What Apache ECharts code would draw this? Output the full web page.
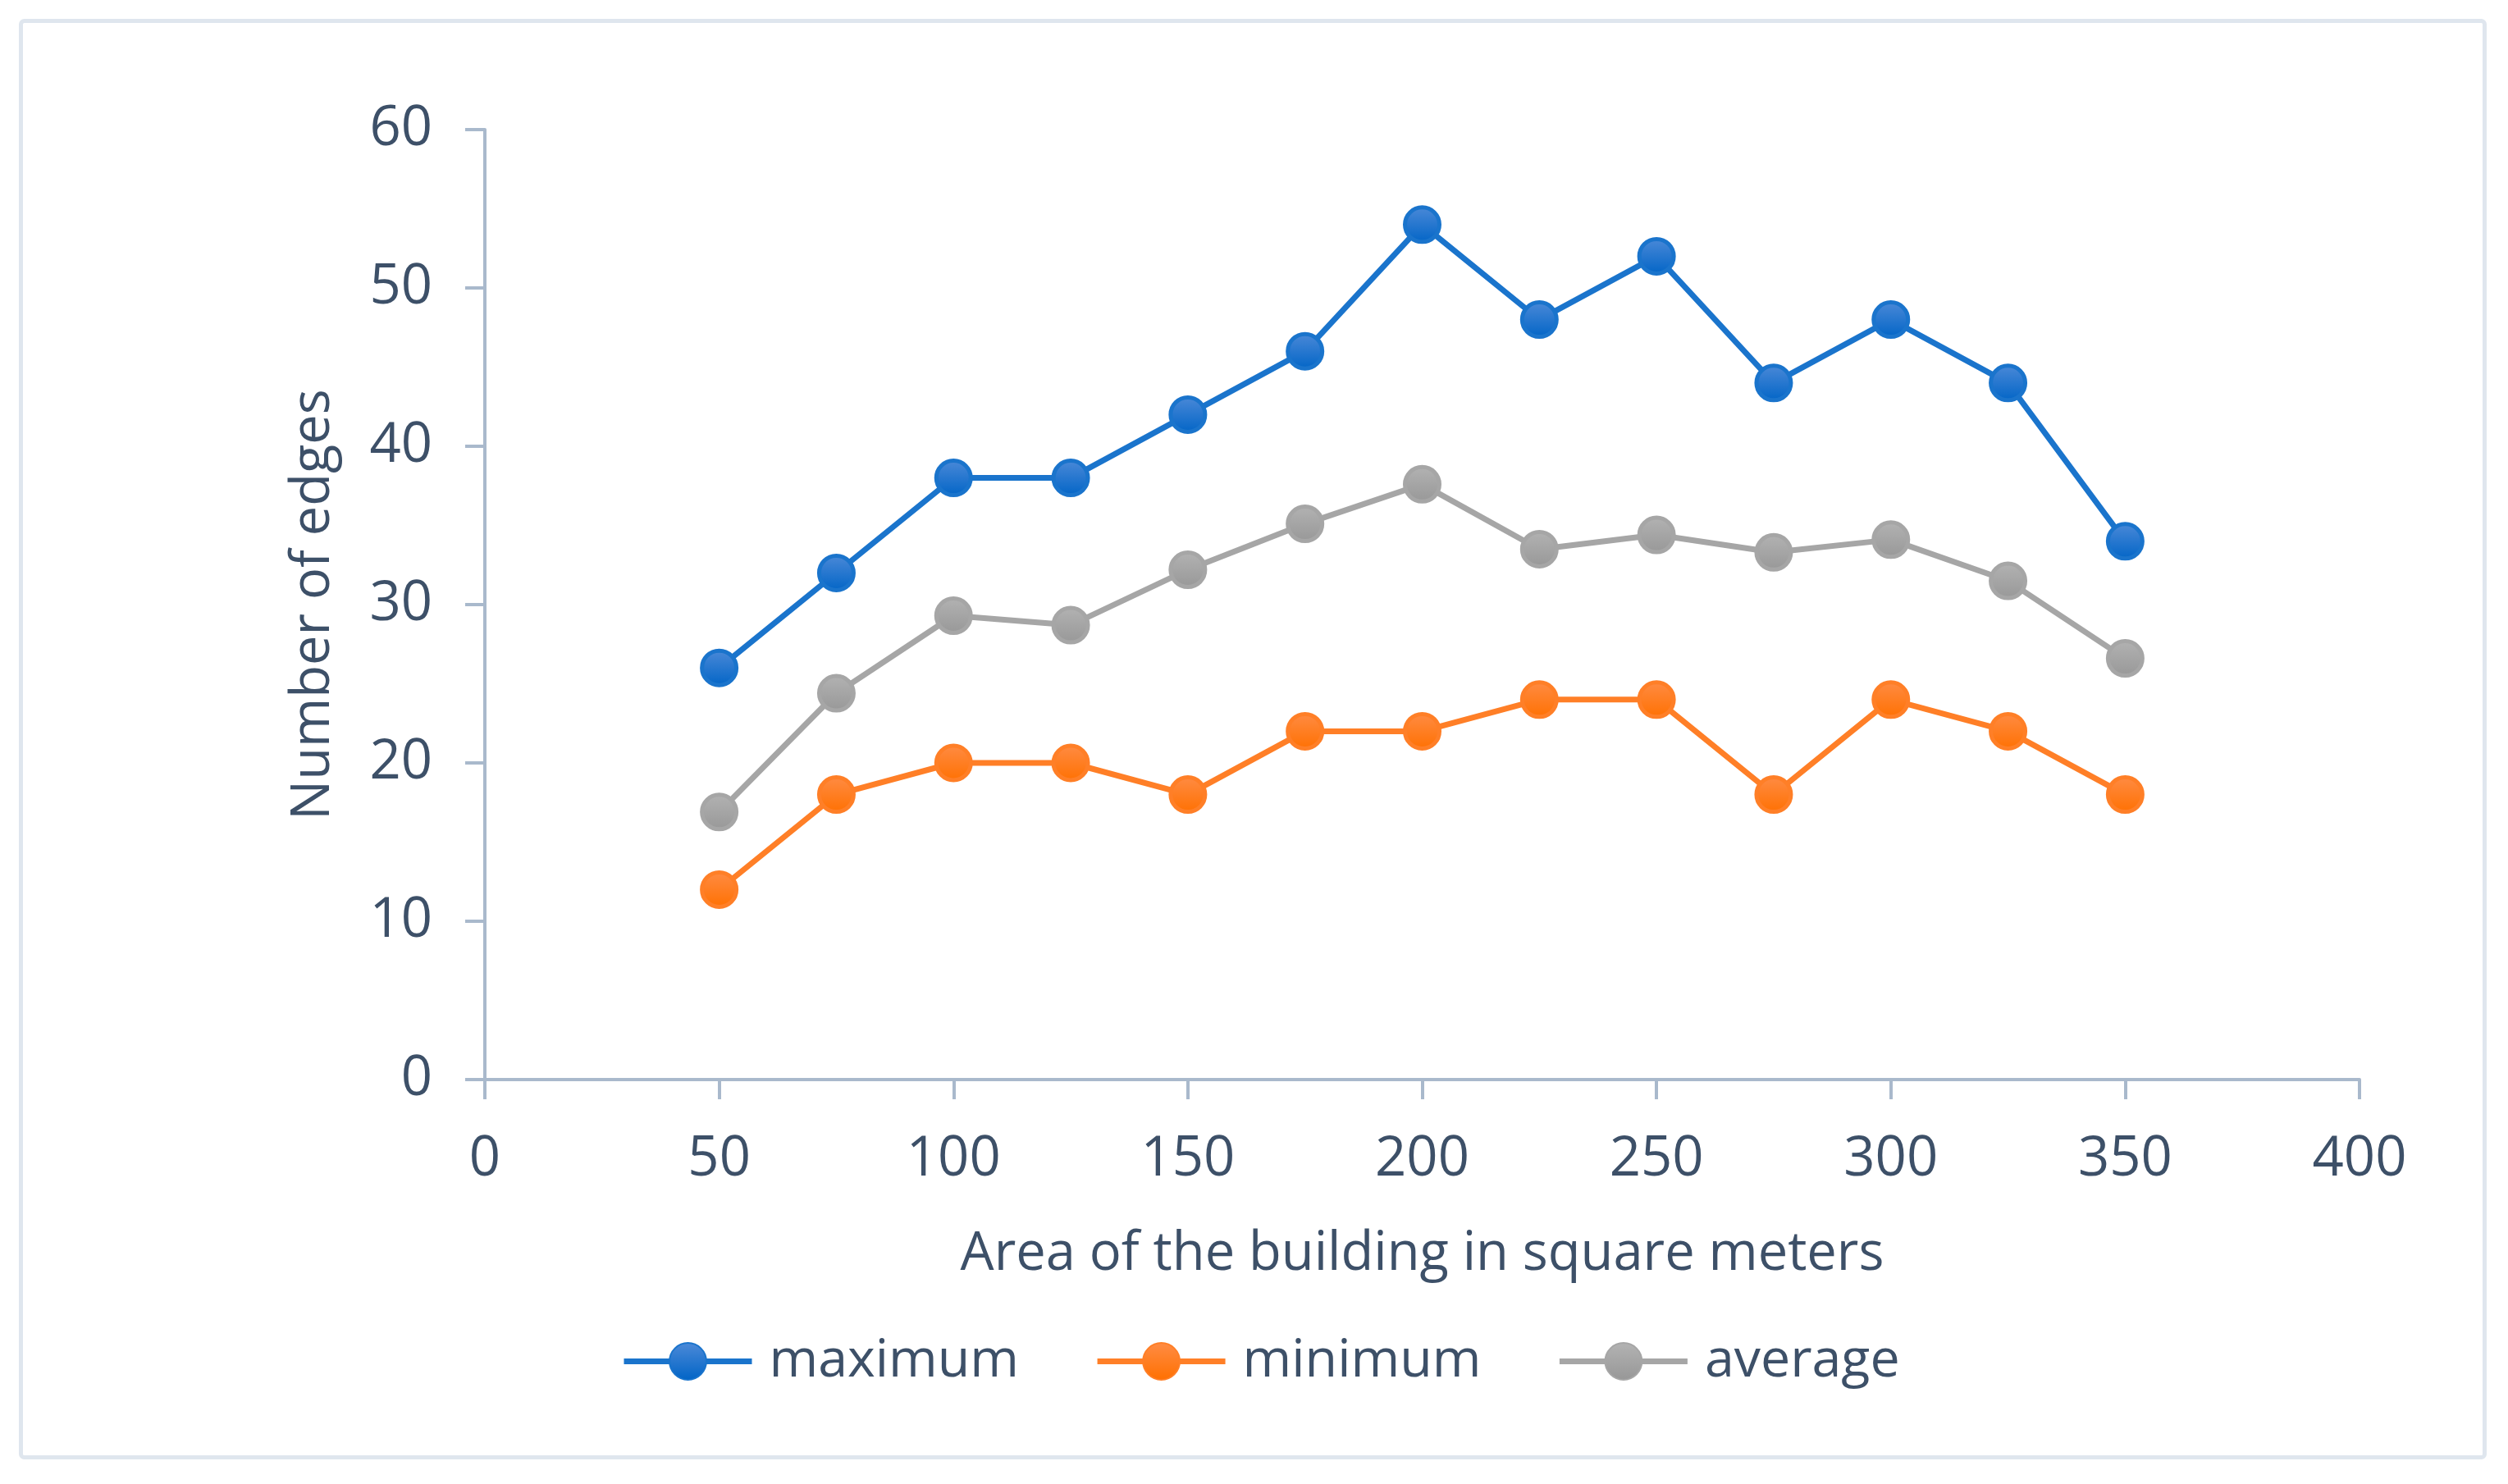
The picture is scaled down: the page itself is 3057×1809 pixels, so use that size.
<!DOCTYPE html>
<html>
<head>
<meta charset="utf-8">
<script src="https://cdn.jsdelivr.net/npm/echarts@6/dist/echarts.min.js"></script>
<style>
html,body{margin:0;padding:0;background:#fff;}
#chart{width:3057px;height:1809px;}
</style>
</head>
<body>
<div id="chart"></div>
<script>
const areas = [50, 75, 100, 125, 150, 175, 200, 225, 250, 275, 300, 325, 350];
const maximumValues = [26, 32, 38, 38, 42, 46, 54, 48, 52, 44, 48, 44, 34];
const minimumValues = [12, 18, 20, 20, 18, 22, 22, 24, 24, 18, 24, 22, 18];
const averageValues = [16.9, 24.4, 29.3, 28.7, 32.2, 35.1, 37.6, 33.5, 34.4, 33.3, 34.1, 31.5, 26.6];
const seriesNames = ['maximum', 'minimum', 'average'];
const xAxisTitle = 'Area of the building in square meters';
const yAxisTitle = 'Number of edges';

const FONT = '"Open Sans", "Noto Sans", sans-serif';
const TEXT = '#3d5068';
const AXIS = '#a9b9cc';

function pairs(vals){ return areas.map((a,i)=>[a, vals[i]]); }
function grad(top, bottom){
  return {type:'linear', x:0, y:0, x2:0, y2:1, colorStops:[{offset:0,color:top},{offset:1,color:bottom}]};
}
function mk(name, vals, line, top, bottom){
  return {
    name, type:'line', data: pairs(vals),
    symbol:'circle', symbolSize:42,
    lineStyle:{color:line, width:7},
    itemStyle:{color:grad(top,bottom), borderColor:line, borderWidth:5},
    emphasis:{disabled:true},
    animation:false
  };
}

const chart = echarts.init(document.getElementById('chart'));
chart.setOption({
  backgroundColor:'#ffffff',
  animation:false,
  graphic:[{
    type:'rect', left:23, top:23, z:-10,
    shape:{width:3003, height:1751, r:4},
    style:{fill:'#ffffff', stroke:'#dfe6ee', lineWidth:5}
  }],
  grid:{left:591, right:181, top:158, bottom:493, containLabel:false},
  xAxis:{
    type:'value', min:0, max:400, interval:50,
    name:xAxisTitle, nameLocation:'middle', nameGap:174,
    nameTextStyle:{color:TEXT, fontSize:65, fontFamily:FONT, lineHeight:78},
    axisLine:{show:true, onZero:false, lineStyle:{color:AXIS, width:4}},
    axisTick:{show:true, length:24, lineStyle:{color:AXIS, width:4}},
    axisLabel:{color:TEXT, fontSize:67, fontFamily:FONT, margin:64, lineHeight:67},
    splitLine:{show:false}
  },
  yAxis:{
    type:'value', min:0, max:60, interval:10,
    name:yAxisTitle, nameLocation:'middle', nameGap:170,
    nameTextStyle:{color:TEXT, fontSize:65, fontFamily:FONT, lineHeight:78},
    axisLine:{show:true, lineStyle:{color:AXIS, width:4}},
    axisTick:{show:true, length:24, lineStyle:{color:AXIS, width:4}},
    axisLabel:{color:TEXT, fontSize:67, fontFamily:FONT, margin:64},
    splitLine:{show:false}
  },
  legend:{
    data:seriesNames, left:752, top:1622, orient:'horizontal',
    itemWidth:156, itemHeight:56, itemGap:92,
    lineStyle:{width:7},
    textStyle:{color:TEXT, fontSize:64.5, fontFamily:FONT, padding:[0,0,0,16]}
  },
  series:[
    mk(seriesNames[0], maximumValues, '#1a74cc', '#4d8ad8', '#0064c6'),
    mk(seriesNames[1], minimumValues, '#ff7f27', '#ff8c45', '#ff7000'),
    mk(seriesNames[2], averageValues, '#a6a6a6', '#b3b3b3', '#979797')
  ]
});
</script>
</body>
</html>
